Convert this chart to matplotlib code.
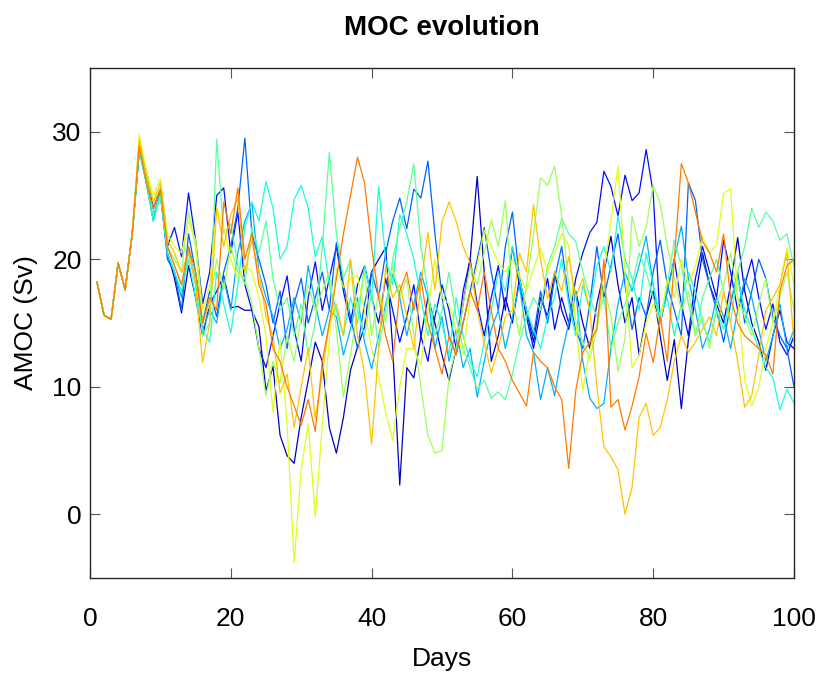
import numpy as np
import matplotlib.pyplot as plt

# shared start (days 1-6), then one list per ensemble member (days 7-100)
common = [18.2, 15.6, 15.3, 19.7, 17.6, 22.0]

m_darkblue = [28.5, 26.5, 23.5, 25.0, 20.5, 18.5, 15.8, 19.5, 17.0, 14.0, 16.5,
              17.5, 18.7, 16.2, 16.3, 16.0, 16.0, 14.7, 9.7, 11.6, 6.2,
              4.6, 4.0, 7.6, 10.5, 13.5, 12.0, 6.8, 4.8, 7.6, 11.3,
              13.1, 14.7, 19.0, 20.0, 20.9, 13.0, 2.3, 11.5, 10.7, 13.9,
              17.0, 15.0, 12.5, 10.5, 13.0, 16.5, 20.0, 26.5, 19.0, 12.0,
              14.0, 17.0, 15.0, 18.5, 16.0, 13.5, 17.0, 15.5, 19.0, 16.0,
              14.5, 17.5, 15.0, 13.0, 16.5, 19.0, 21.8, 18.0, 15.0, 17.0,
              12.5, 15.5, 17.5, 14.0, 10.5, 13.7, 8.3, 13.7, 17.0, 20.5,
              18.0, 16.5, 15.0, 18.0, 21.7, 17.5, 15.0, 13.5, 11.3, 14.0,
              16.0, 13.5, 13.0]

m_blue = [28.8, 27.0, 24.0, 25.5, 21.0, 22.5, 20.2, 25.2, 21.5, 16.5, 19.0,
          25.0, 25.6, 20.5, 23.7, 18.0, 16.0, 13.0, 11.5, 14.0, 16.5,
          18.7, 14.5, 12.0, 17.0, 19.8, 16.0, 18.5, 21.0, 17.5, 15.0,
          18.0, 19.5, 17.0, 15.0, 18.5, 16.0, 13.5, 15.5, 18.0, 14.0,
          12.0, 15.5, 18.0, 16.0, 13.0, 17.5, 20.0, 16.5, 14.0, 17.0,
          19.5, 16.0, 21.0, 18.0, 15.5, 13.0, 16.0, 18.5, 14.5, 17.0,
          15.0, 18.5, 20.5, 22.1, 22.9, 26.9, 25.7, 23.4, 26.6, 24.6,
          25.2, 28.6, 25.2, 15.0, 17.5, 20.0, 16.5, 14.0, 18.5, 21.0,
          19.0, 17.0, 21.5, 19.0, 16.0, 18.0, 20.0, 17.0, 14.5, 16.5,
          13.5, 12.5, 14.0]

m_midblue = [28.6, 26.0, 23.0, 25.5, 20.0, 19.0, 16.0, 22.0, 19.0, 15.0, 17.5,
             15.5, 19.0, 21.0, 24.0, 29.5, 22.0, 20.0, 18.0, 15.0, 17.5,
             13.0, 16.5, 18.5, 15.0, 17.0, 19.0, 16.0, 21.3, 18.0, 15.5,
             13.0, 16.5, 19.0, 17.0, 20.5, 23.0, 24.8, 22.4, 25.5, 24.8,
             27.7, 22.0, 17.0, 14.0, 12.5, 15.0, 17.5, 20.0, 22.5, 19.0,
             16.0, 21.0, 23.7, 18.5, 16.0, 14.0, 17.5, 15.0, 18.5, 21.0,
             17.0, 14.5, 13.0, 16.5, 21.0, 17.0, 19.5, 22.0, 18.0, 14.5,
             17.0, 15.5, 19.0, 21.5, 18.0, 16.0, 14.0, 26.0, 24.6, 20.0,
             18.0, 16.0, 13.5, 16.5, 19.0, 15.0, 17.5, 20.0, 18.5, 15.5,
             14.0, 13.0, 10.0]

m_lightblue = [28.7, 26.0, 23.5, 25.2, 20.5, 19.0, 17.0, 21.0, 18.0, 14.5, 16.0,
               15.0, 18.5, 16.0, 20.5, 23.0, 24.4, 19.0, 17.0, 15.5, 13.0,
               14.5, 17.0, 15.0, 19.5, 16.5, 14.0, 16.0, 15.5, 12.5, 14.5,
               17.0, 13.5, 11.4, 14.0, 16.5, 18.8, 17.0, 14.0, 16.5, 19.0,
               17.0, 13.0, 15.5, 12.0, 14.5, 11.5, 13.0, 9.2, 12.0, 14.5,
               16.0, 13.0, 15.5, 18.0, 14.0, 12.7, 9.0, 11.5, 9.3, 12.5,
               15.0, 17.5, 12.0, 9.1, 8.3, 8.7, 13.0, 16.5, 19.0, 17.5,
               19.5, 21.8, 18.0, 15.0, 17.5, 20.0, 22.6, 18.5, 16.0, 13.0,
               14.5, 17.0, 15.5, 13.0, 16.0, 18.5, 17.0, 14.5, 12.0, 14.0,
               16.5, 13.0, 14.5]

m_cyan = [28.4, 26.0, 23.0, 25.0, 20.5, 19.0, 17.5, 20.0, 17.0, 14.5, 13.5,
          19.0, 16.5, 14.2, 18.0, 22.5, 24.5, 23.0, 26.1, 24.0, 20.0,
          21.0, 24.7, 25.8, 24.0, 20.2, 21.8, 18.0, 16.0, 14.0, 17.0,
          15.0, 19.5, 16.9, 25.7, 20.0, 18.0, 23.5, 22.0, 20.0, 17.0,
          14.0, 16.5, 15.0, 12.5, 17.0, 14.0, 12.0, 10.8, 13.5, 16.0,
          19.0, 17.5, 21.0, 18.5, 16.0, 14.5, 13.0, 15.5, 17.0, 20.0,
          16.5, 14.0, 18.0, 16.0, 19.5, 21.0, 19.0, 23.4, 20.0, 18.5,
          16.0, 20.5, 18.0, 15.5, 17.0, 14.0, 16.5, 19.0, 17.5, 15.0,
          13.5, 16.0, 14.5, 17.0, 18.5, 16.0, 14.5, 13.0, 11.5, 10.7,
          8.2, 9.8, 8.7]

m_aqua = [28.9, 26.5, 23.5, 25.0, 21.0, 19.5, 18.0, 20.5, 18.5, 14.0, 15.0,
          29.4, 22.0, 22.8, 19.5, 18.0, 22.5, 20.5, 23.0, 18.5, 16.0,
          17.0, 14.0, 16.5, 12.5, 15.0, 21.0, 28.4, 22.0, 18.5, 20.0,
          16.0, 14.0, 17.5, 13.0, 16.0, 20.0, 22.5, 24.5, 27.5, 21.0,
          17.5, 14.0, 16.0, 19.0, 15.5, 13.0, 11.5, 9.8, 10.5, 9.1,
          9.6, 9.0, 11.0, 13.5, 15.5, 17.0, 16.0, 19.5, 21.0, 23.2,
          22.0, 21.4, 19.0, 17.0, 15.5, 17.0, 13.0, 15.0, 16.5, 18.0,
          20.5, 19.0, 17.0, 15.5, 18.0, 21.5, 19.5, 16.5, 14.0, 17.0,
          18.5, 20.0, 17.5, 15.0, 19.0, 21.0, 24.0, 22.5, 23.7, 23.0,
          21.5, 22.0, 19.5]

m_lightgreen = [29.2, 27.0, 24.5, 25.5, 21.0, 20.0, 19.0, 23.7, 21.0, 15.0, 16.5,
                20.0, 17.6, 21.0, 19.0, 18.5, 16.5, 13.0, 9.3, 12.0, 10.3,
                14.0, 12.0, 15.5, 18.0, 16.0, 17.5, 19.0, 14.5, 9.2, 12.5,
                16.0, 19.0, 14.0, 17.5, 15.0, 19.5, 17.0, 18.5, 14.0, 10.0,
                6.2, 4.8, 5.0, 10.8, 13.0, 16.5, 19.5, 18.0, 20.5, 23.1,
                21.0, 24.6, 17.0, 14.0, 18.0, 22.0, 26.4, 25.8, 27.3, 23.4,
                18.0, 15.0, 13.5, 12.2, 14.5, 18.0, 15.5, 11.2, 13.8, 23.4,
                21.0, 22.5, 25.8, 24.4, 21.0, 18.5, 16.0, 17.5, 14.0, 15.5,
                13.0, 16.5, 18.0, 20.5, 17.0, 15.5, 14.0, 16.5, 18.5, 15.0,
                17.0, 19.0, 16.0]

m_yellow = [29.8, 27.0, 25.0, 26.3, 22.0, 21.0, 20.5, 23.0, 21.5, 16.0, 18.0,
            24.0, 22.5, 20.0, 18.5, 19.5, 19.0, 17.0, 14.0, 8.0, 13.7,
            7.0, -3.8, 3.5, 7.1, -0.2, 7.0, 13.7, 19.3, 17.8, 18.5,
            18.7, 16.0, 13.0, 10.8, 8.0, 5.8, 10.0, 13.0, 13.0, 11.7,
            16.0, 20.0, 17.0, 16.5, 14.5, 12.5, 17.0, 19.5, 22.3, 21.0,
            19.7, 19.0, 20.0, 18.8, 17.5, 19.3, 20.9, 19.0, 20.5, 22.0,
            21.1, 15.0, 9.7, 12.9, 15.0, 19.0, 23.0, 27.3, 19.0, 11.5,
            12.5, 15.0, 16.5, 15.0, 18.5, 17.0, 20.0, 18.0, 19.5, 21.8,
            20.5, 21.1, 25.2, 25.5, 17.0, 10.5, 8.5, 10.0, 13.0, 15.0,
            18.0, 20.9, 18.0]

m_orange = [29.4, 26.5, 24.5, 26.0, 21.5, 20.5, 19.0, 20.5, 18.0, 11.9, 15.0,
            24.0, 21.0, 23.5, 24.8, 19.0, 21.5, 19.0, 15.5, 14.0, 9.5,
            11.0, 6.8, 10.0, 13.0, 7.5, 11.0, 15.0, 16.5, 14.0, 20.0,
            14.0, 11.0, 5.5, 13.0, 19.4, 17.0, 18.0, 15.6, 13.0, 18.0,
            22.1, 17.6, 22.9, 24.5, 23.0, 21.0, 19.7, 16.0, 13.5, 11.1,
            13.0, 15.5, 16.0, 20.5, 19.0, 24.3, 20.0, 16.9, 19.0, 17.5,
            20.2, 17.0, 18.5, 16.0, 10.0, 5.3, 4.5, 3.5, 0.0, 2.1,
            7.6, 8.7, 6.2, 6.8, 9.0, 12.0, 14.0, 12.7, 13.5, 14.5,
            15.5, 14.0, 17.5, 15.0, 12.0, 8.4, 9.3, 12.5, 16.0, 17.0,
            18.0, 20.5, 13.5]

m_red = [28.9, 26.0, 24.0, 25.5, 21.0, 19.5, 18.0, 21.0, 19.0, 15.0, 17.0,
         16.0, 24.5, 22.0, 25.6, 20.0, 22.0, 18.0, 16.5, 13.0, 12.0,
         10.0, 8.5, 7.0, 9.0, 6.5, 12.0, 15.0, 18.5, 22.0, 25.0,
         28.0, 26.0, 21.0, 17.0, 14.0, 12.0, 17.5, 19.0, 16.0, 18.5,
         15.0, 13.0, 11.0, 14.0, 12.5, 15.0, 17.5, 16.0, 19.0, 16.0,
         13.0, 12.0, 10.5, 9.5, 8.5, 12.7, 12.0, 11.5, 10.0, 9.0,
         3.6, 9.7, 12.7, 13.5, 14.5, 20.0, 8.4, 9.0, 6.6, 8.5,
         10.8, 14.2, 11.9, 15.5, 12.0, 20.0, 27.5, 26.0, 23.7, 21.4,
         20.5, 19.0, 22.0, 17.0, 15.0, 14.0, 13.5, 13.0, 12.5, 11.0,
         17.5, 19.5, 20.0]

members = [m_darkblue, m_blue, m_midblue, m_lightblue, m_cyan,
           m_aqua, m_lightgreen, m_yellow, m_orange, m_red]
days = np.arange(1, 101)

plt.rcParams['font.family'] = ['Liberation Sans', 'DejaVu Sans']

fig = plt.figure(figsize=(8.21, 6.73), dpi=100)
ax = fig.add_axes([0.1096, 0.141, 0.8575, 0.758])

colors = plt.cm.jet(np.linspace(0.06, 0.78, len(members)))
for m, c in zip(members, colors):
    ax.plot(days, common + m, color=c, lw=0.9)

ax.set_xlim(0, 100)
ax.set_ylim(-5, 35)
ax.set_xticks([0, 20, 40, 60, 80, 100])
ax.set_yticks([0, 10, 20, 30])
ax.tick_params(direction='in', length=7, width=0.8, color='#555555',
               labelsize=19, top=True, right=True)
ax.tick_params(axis='x', pad=21)
ax.tick_params(axis='y', pad=6)
for s in ax.spines.values():
    s.set_color('#262626')
    s.set_linewidth(1.0)

ax.set_xlabel('Days', fontsize=19, labelpad=11)
ax.set_ylabel('AMOC (Sv)', fontsize=19, labelpad=10)
ax.set_title('MOC evolution', fontsize=20, fontweight='bold', pad=24)

fig.savefig('out.png')
